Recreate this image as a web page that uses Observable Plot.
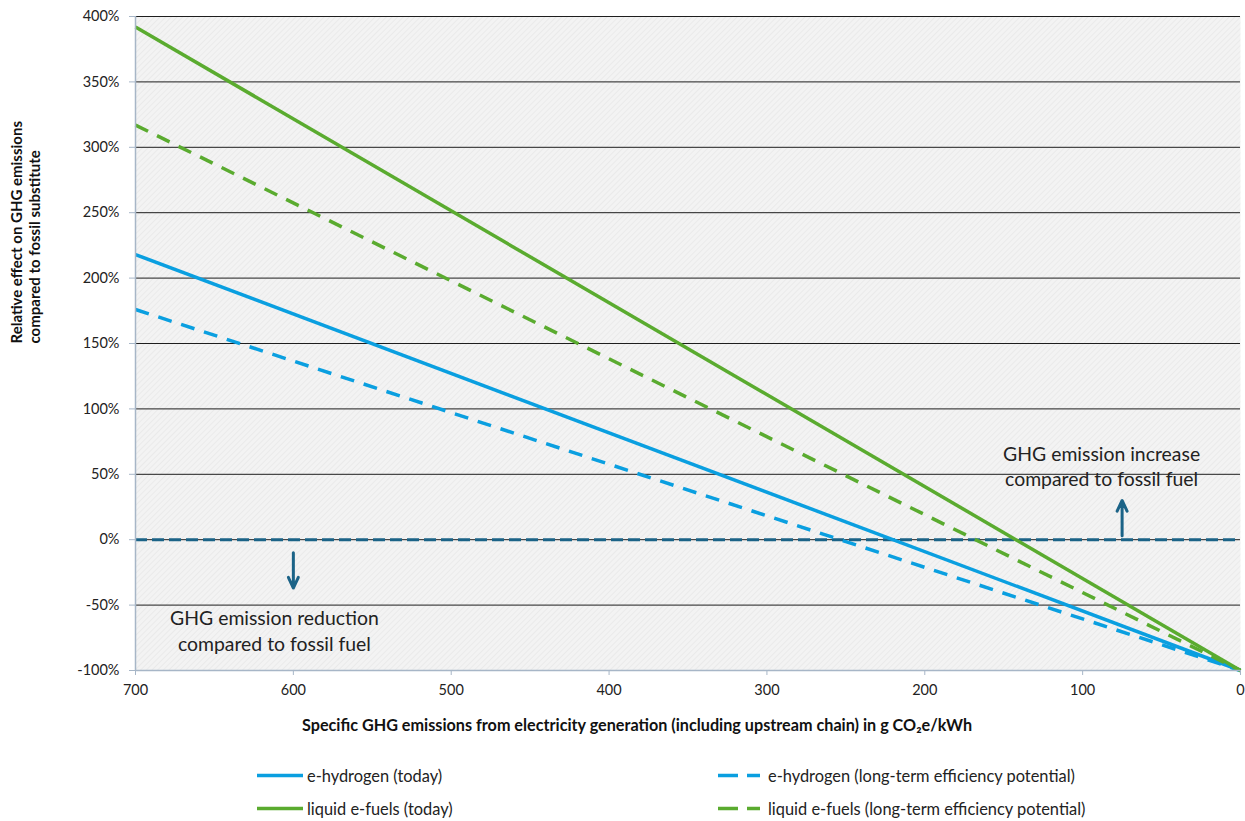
<!DOCTYPE html>
<html><head><meta charset="utf-8">
<script src="https://cdn.jsdelivr.net/npm/d3@7"></script>
<script src="https://cdn.jsdelivr.net/npm/@observablehq/plot@0.6"></script>
<style>
body{margin:0;background:#fff;font-family:Lato,"Open Sans",sans-serif;}
#legend{position:relative;height:71px;font-size:16.4px;color:#222;width:1245px}
.item{position:absolute;display:flex;align-items:center;transform:translateY(-50%)}
</style></head><body><div id="chart"></div><div id="legend"></div>
<script>
// x positions (g CO2e/kWh) where each straight line is read
const xValues = [700, 0];
// relative effect on GHG emissions (%) at those x positions
const eHydrogenToday = [218, -100];
const eHydrogenLongTerm = [176, -100];
const liquidToday = [392, -100];
const liquidLongTerm = [317, -100];
const seriesNames = [
  "e-hydrogen (today)",
  "e-hydrogen (long-term efficiency potential)",
  "liquid e-fuels (today)",
  "liquid e-fuels (long-term efficiency potential)"
];
const yTicks = [-100, -50, 0, 50, 100, 150, 200, 250, 300, 350, 400];
const xTicks = [700, 600, 500, 400, 300, 200, 100, 0];
const annotations = [
  {x: 612, y: -69, text: "GHG emission reduction\ncompared to fossil fuel"},
  {x: 88, y: 57, text: "GHG emission increase\ncompared to fossil fuel"}
];
const arrows = [
  {x: 600, y1: -10, y2: -37},
  {x: 75, y1: 3, y2: 30}
];

const blue = "#0a9fe0", green = "#5aab2f", teal = "#1b6387";
const styles = [
  {color: blue, dash: null},
  {color: blue, dash: "14 10"},
  {color: green, dash: null},
  {color: green, dash: "14 10"}
];
const allValues = [eHydrogenToday, eHydrogenLongTerm, liquidToday, liquidLongTerm];
const rows = allValues.map((vals, i) => vals.map((v, j) => ({series: seriesNames[i], x: xValues[j], y: v})));

const lineMarks = rows.map((r, i) => Plot.line(r, {
  x: "x", y: "y", stroke: styles[i].color, strokeWidth: 3.5,
  strokeDasharray: styles[i].dash ?? undefined, strokeLinecap: "butt"
}));

const chart = Plot.plot({
  width: 1245, height: 750,
  marginLeft: 135, marginRight: 5, marginTop: 16, marginBottom: 80,
  style: {fontFamily: "Lato, 'Open Sans', sans-serif", background: "#fff"},
  x: {domain: [700, 0]},
  y: {domain: [-100, 400]},
  marks: [
    Plot.frame({fill: "url(#hatch)", stroke: null}),
    Plot.ruleY(yTicks.filter(d => d > -100), {stroke: "#1e1e1e", strokeWidth: 1}),
    Plot.ruleY([0], {stroke: teal, strokeWidth: 3, strokeDasharray: "12 5"}),
    ...lineMarks,
    Plot.ruleX([700], {stroke: "#a7b6c7", strokeWidth: 1.5}),
    Plot.ruleY([-100], {stroke: "#a7b6c7", strokeWidth: 1.5}),
    Plot.axisY({ticks: yTicks, tickFormat: d => d + "%", tickSize: 6, tickPadding: 10,
      stroke: "#a7b6c7", fill: "#222", fontSize: 14.5, label: null}),
    Plot.axisX({ticks: xTicks, tickFormat: d => d, tickSize: 5, tickPadding: 9,
      stroke: "#a7b6c7", fill: "#222", fontSize: 14.5, label: null}),
    Plot.arrow(arrows, {x1: "x", x2: "x", y1: "y1", y2: "y2", stroke: teal,
      strokeWidth: 3, headLength: 10, headAngle: 50}),
    Plot.text(annotations, {x: "x", y: "y", text: "text", fontSize: 19.4, fill: "#222",
      lineHeight: 1.3, lineAnchor: "middle"}),
    Plot.text(["Specific GHG emissions from electricity generation (including upstream chain) in g CO₂e/kWh"],
      {frameAnchor: "bottom", dy: 60, dx: -51, text: d => d, fontSize: 16.2, fontWeight: "bold", fill: "#111"}),
    Plot.text(["Relative effect on GHG emissions\ncompared to fossil substitute"],
      {frameAnchor: "left", dx: -110, rotate: -90, text: d => d, fontSize: 15,
       fontWeight: "bold", fill: "#111", lineHeight: 1.2})
  ]
});

// hatch pattern for the plot background
const ns = "http://www.w3.org/2000/svg";
const defs = document.createElementNS(ns, "defs");
defs.innerHTML = `<pattern id="hatch" patternUnits="userSpaceOnUse" width="4" height="4" patternTransform="rotate(45)">
  <rect width="4" height="4" fill="#f3f3f3"></rect>
  <line x1="0" y1="0" x2="0" y2="4" stroke="#e7e7e7" stroke-width="1.5"></line>
</pattern>`;
chart.insertBefore(defs, chart.firstChild);
document.getElementById("chart").appendChild(chart);

// legend
const legend = document.getElementById("legend");
const pos = [
  {left: 257, top: 25, w: 46, gap: 4}, {left: 718, top: 25, w: 42, gap: 8},
  {left: 257, top: 58, w: 46, gap: 4}, {left: 718, top: 58, w: 42, gap: 8}
];
seriesNames.forEach((name, i) => {
  const d = document.createElement("div");
  d.className = "item";
  d.style.left = pos[i].left + "px";
  d.style.top = pos[i].top + "px";
  const w = pos[i].w;
  d.innerHTML = `<svg width="${w}" height="6"><line x1="0" y1="3" x2="${w}" y2="3" stroke="${styles[i].color}" stroke-width="3.5" ${styles[i].dash ? 'stroke-dasharray="20 9"' : ''}></line></svg><span style="margin-left:${pos[i].gap}px">${name}</span>`;
  legend.appendChild(d);
});
</script></body></html>
